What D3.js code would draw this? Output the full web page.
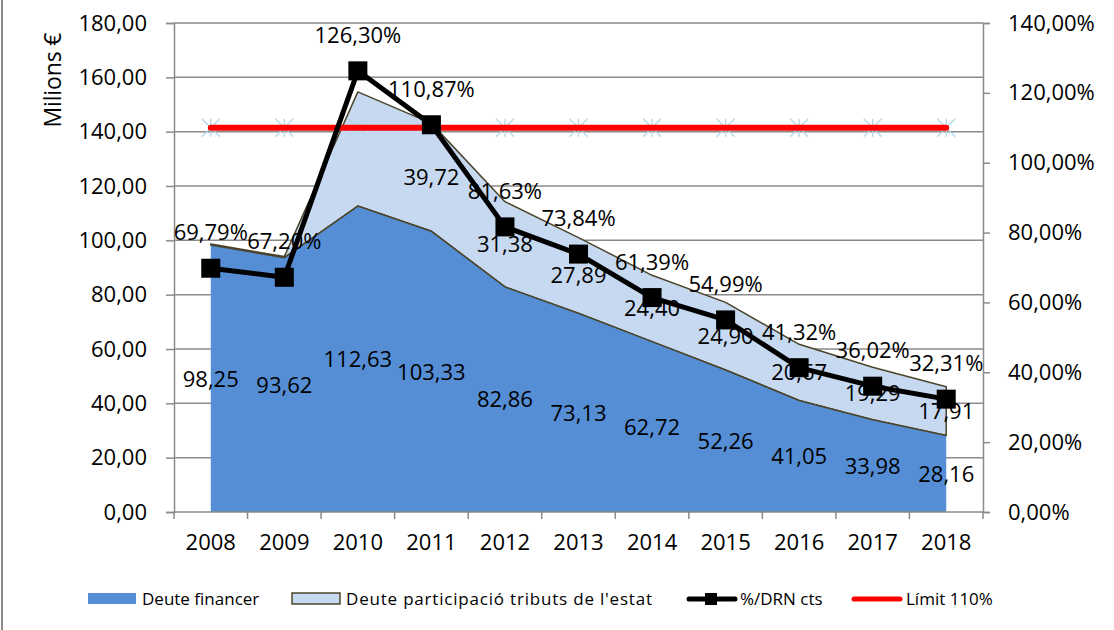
<!DOCTYPE html>
<html>
<head>
<meta charset="utf-8">
<script src="https://cdn.jsdelivr.net/npm/d3@7"></script>
<style>
	body { margin: 0; background: #fff; }
	svg { display: block; font-family: "Open Sans", sans-serif; }
	.axis path, .axis line { stroke: #8a8a8a; stroke-width: 1.5px; }
	.axis text { fill: #000; font-size: 22px; font-family: "Open Sans", sans-serif; }
	.grid line { stroke: #8a8a8a; stroke-width: 1.5px; }
	.lbl { font-size: 22px; fill: #000; }
	.legend text { font-size: 17px; fill: #000; }
</style>
</head>
<body>
<svg id="chart" width="1114" height="630"></svg>
<script>
"use strict";

// Data
const years = ["2008", "2009", "2010", "2011", "2012", "2013", "2014", "2015", "2016", "2017", "2018"];
const deuteFinancer = [98.25, 93.62, 112.63, 103.33, 82.86, 73.13, 62.72, 52.26, 41.05, 33.98, 28.16];
// first three values have no label in the original
const deuteParticipacio = [0.4, 0.4, 42.0, 39.72, 31.38, 27.89, 24.40, 24.90, 20.67, 19.29, 17.91];
const participLabelFrom = 3;
const percentDRN = [0.6979, 0.6720, 1.2630, 1.1087, 0.8163, 0.7384, 0.6139, 0.5499, 0.4132, 0.3602, 0.3231];
const limit110 = [1.1, 1.1, 1.1, 1.1, 1.1, 1.1, 1.1, 1.1, 1.1, 1.1, 1.1];
const leftTicks = [0, 20, 40, 60, 80, 100, 120, 140, 160, 180];
const rightTicks = [0, 0.2, 0.4, 0.6, 0.8, 1.0, 1.2, 1.4];
const seriesNames = ["Deute financer", "Deute participació tributs de l'estat", "%/DRN cts", "Límit 110%"];

const colBlue = "#558ed5";
const colLight = "#c6d9f1";
const colOutline = "#4a452a";

const locale = d3.formatLocale({ decimal: ",", thousands: ".", grouping: [3], currency: ["", "€"] });
const fmt2 = locale.format(".2f");
const fmtPct = locale.format(".2%");

const svg = d3.select("#chart");
const plot = { left: 174, right: 983, top: 23, bottom: 512 };

const x = d3.scaleBand().domain(years).range([plot.left, plot.right]).paddingInner(0).paddingOuter(0);
const cx = d => x(d) + x.bandwidth() / 2;
const yL = d3.scaleLinear().domain([0, 180]).range([plot.bottom, plot.top]);
const yR = d3.scaleLinear().domain([0, 1.4]).range([plot.bottom, plot.top]);

// outer chart frame (only left edge visible)
svg.append("line")
	.attr("x1", 2).attr("x2", 2).attr("y1", 0).attr("y2", 630)
	.attr("stroke", "#8a8a8a").attr("stroke-width", 2);

// gridlines
svg.append("g").attr("class", "grid")
	.selectAll("line")
	.data(leftTicks.slice(1))
	.enter()
	.append("line")
	.attr("x1", plot.left).attr("x2", plot.right)
	.attr("y1", d => yL(d)).attr("y2", d => yL(d));

// stacked areas
const stackData = years.map((yr, i) => ({ year: yr, a: deuteFinancer[i], b: deuteParticipacio[i] }));

const areaFin = d3.area()
	.x(d => cx(d.year))
	.y0(yL(0))
	.y1(d => yL(d.a));

const areaPart = d3.area()
	.x(d => cx(d.year))
	.y0(d => yL(d.a))
	.y1(d => yL(d.a + d.b));

svg.append("path")
	.datum(stackData)
	.attr("d", areaPart)
	.attr("fill", colLight)
	.attr("stroke", colOutline)
	.attr("stroke-width", 1.5)
	.attr("stroke-linejoin", "round");

svg.append("path")
	.datum(stackData)
	.attr("d", areaFin)
	.attr("fill", colBlue);

// blue top edge outline (shared with light area)
svg.append("path")
	.datum(stackData)
	.attr("d", d3.line().x(d => cx(d.year)).y(d => yL(d.a)))
	.attr("fill", "none")
	.attr("stroke", colOutline)
	.attr("stroke-width", 1.5);

// axes
svg.append("g").attr("class", "axis")
	.attr("transform", `translate(${plot.left},0)`)
	.call(d3.axisLeft(yL).tickValues(leftTicks).tickFormat(fmt2).tickSize(8).tickPadding(19));

svg.append("g").attr("class", "axis")
	.attr("transform", `translate(${plot.right},0)`)
	.call(d3.axisRight(yR).tickValues(rightTicks).tickFormat(fmtPct).tickSize(7).tickPadding(18));

const axBottom = svg.append("g").attr("class", "axis")
	.attr("transform", `translate(0,${plot.bottom})`)
	.call(d3.axisBottom(x).tickSize(0).tickPadding(22));
axBottom.select(".domain").remove();
axBottom.append("line")
	.attr("x1", plot.left).attr("x2", plot.right)
	.attr("y1", 0).attr("y2", 0);
axBottom.selectAll(".bound")
	.data(years.map(d => x(d)).concat([plot.right]))
	.enter()
	.append("line")
	.attr("class", "bound")
	.attr("x1", d => d).attr("x2", d => d)
	.attr("y1", 0).attr("y2", 7);

// y axis title
svg.append("text")
	.attr("transform", "translate(61,80) rotate(-90)")
	.attr("text-anchor", "middle")
	.attr("textLength", 95)
	.attr("lengthAdjust", "spacing")
	.style("font-size", "23px")
	.text("Milions €");

// area labels
const labels = svg.append("g");
labels.selectAll(".finLbl")
	.data(stackData)
	.enter()
	.append("text")
	.attr("class", "lbl")
	.attr("text-anchor", "middle")
	.attr("x", d => cx(d.year))
	.attr("y", d => yL(d.a / 2) + 8)
	.text(d => fmt2(d.a));

labels.selectAll(".partLbl")
	.data(stackData.slice(participLabelFrom))
	.enter()
	.append("text")
	.attr("class", "lbl")
	.attr("text-anchor", "middle")
	.attr("x", d => cx(d.year))
	.attr("y", d => yL(d.a + d.b / 2) + 8)
	.text(d => fmt2(d.b));

// percentage labels
labels.selectAll(".pctLbl")
	.data(years)
	.enter()
	.append("text")
	.attr("class", "lbl")
	.attr("text-anchor", "middle")
	.attr("x", d => cx(d))
	.attr("y", (d, i) => yR(percentDRN[i]) - 28)
	.text((d, i) => fmtPct(percentDRN[i]));

// limit series: asterisk markers then red line
function asterisk(sel) {
	sel.each(function() {
		const g = d3.select(this);
		const r = 9;
		[[-r, -r, r, r], [-r, r, r, -r], [0, -r, 0, r]].forEach(function(s) {
			g.append("line")
				.attr("x1", s[0]).attr("y1", s[1]).attr("x2", s[2]).attr("y2", s[3])
				.attr("stroke", "#b3d7e6").attr("stroke-width", 1.3);
		});
	});
}
svg.append("g")
	.selectAll("g")
	.data(years)
	.enter()
	.append("g")
	.attr("transform", (d, i) => `translate(${cx(d)},${yR(limit110[i])})`)
	.call(asterisk);

svg.append("path")
	.datum(years)
	.attr("d", d3.line().x(d => cx(d)).y((d, i) => yR(limit110[i])))
	.attr("fill", "none")
	.attr("stroke", "#ff0000")
	.attr("stroke-width", 6)
	.attr("stroke-linecap", "round");

// %/DRN line with square markers
svg.append("path")
	.datum(years)
	.attr("d", d3.line().x(d => cx(d)).y((d, i) => yR(percentDRN[i])))
	.attr("fill", "none")
	.attr("stroke", "#000")
	.attr("stroke-width", 5)
	.attr("stroke-linejoin", "round");

svg.append("g")
	.selectAll("rect")
	.data(years)
	.enter()
	.append("rect")
	.attr("x", d => cx(d) - 9.5)
	.attr("y", (d, i) => yR(percentDRN[i]) - 9.5)
	.attr("width", 19)
	.attr("height", 19)
	.attr("fill", "#000");

// legend
const legend = svg.append("g").attr("class", "legend");
const legY = 599;
const legItems = [
	{ x: 88, tx: 142 },
	{ x: 292, tx: 346 },
	{ x: 687, tx: 740 },
	{ x: 852, tx: 906 }
];

legend.append("rect")
	.attr("x", legItems[0].x).attr("y", legY - 6).attr("width", 48).attr("height", 11)
	.attr("fill", colBlue);
legend.append("rect")
	.attr("x", legItems[1].x).attr("y", legY - 6).attr("width", 48).attr("height", 11)
	.attr("fill", colLight).attr("stroke", colOutline).attr("stroke-width", 1.5);
legend.append("line")
	.attr("x1", legItems[2].x + 2).attr("x2", legItems[2].x + 48)
	.attr("y1", legY).attr("y2", legY)
	.attr("stroke", "#000").attr("stroke-width", 5).attr("stroke-linecap", "round");
legend.append("rect")
	.attr("x", legItems[2].x + 18).attr("y", legY - 6).attr("width", 12).attr("height", 12)
	.attr("fill", "#000");
legend.append("line")
	.attr("x1", legItems[3].x + 2).attr("x2", legItems[3].x + 48)
	.attr("y1", legY).attr("y2", legY)
	.attr("stroke", "#ff0000").attr("stroke-width", 5).attr("stroke-linecap", "round");

legend.selectAll("text")
	.data(seriesNames)
	.enter()
	.append("text")
	.attr("x", (d, i) => legItems[i].tx)
	.attr("y", legY + 6)
	.attr("textLength", (d, i) => i === 1 ? 306 : null)
	.attr("lengthAdjust", "spacing")
	.text(d => d);
</script>
</body>
</html>
